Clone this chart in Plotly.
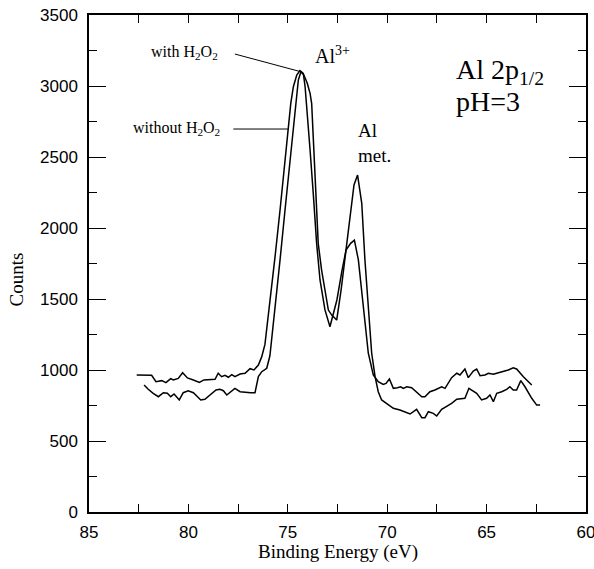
import plotly.graph_objects as go

# Curve "without H2O2"
ev_without = [82.60, 81.85, 81.63, 81.34, 81.13, 80.89, 80.76, 80.51, 80.29, 80.05,
              79.75, 79.45, 79.22, 78.91, 78.66, 78.50, 78.33, 78.16, 77.99, 77.82,
              77.66, 77.40, 77.15, 76.90, 76.70, 76.48, 76.31, 76.15, 75.90, 75.64,
              75.39, 75.14, 74.97, 74.85, 74.72, 74.55, 74.39, 74.22, 74.13, 74.05,
              73.88, 73.72, 73.55, 73.38, 73.13, 72.88, 72.53, 72.27, 72.07, 71.84,
              71.65, 71.45, 71.20, 70.95, 70.70, 70.45, 70.20, 70.06, 69.89, 69.69,
              69.49, 69.32, 69.19, 69.02, 68.77, 68.52, 68.26, 68.10, 67.85, 67.60,
              67.26, 67.09, 66.76, 66.50, 66.34, 66.09, 65.92, 65.67, 65.50, 65.33,
              65.08, 64.91, 64.66, 64.49, 64.16, 63.91, 63.66, 63.49, 63.15, 62.73]
cnt_without = [965, 963, 918, 925, 911, 939, 930, 941, 981, 944,
               930, 913, 930, 934, 934, 977, 953, 963, 949, 967,
               953, 972, 977, 1009, 1000, 1035, 1094, 1180, 1470, 1800,
               2127, 2479, 2690, 2878, 2995, 3077, 3108, 3089, 2995, 2831,
               2549, 2244, 1892, 1634, 1423, 1305, 1493, 1704, 1845, 1892,
               1915, 1775, 1423, 1118, 965, 918, 899, 906, 937, 871,
               875, 882, 871, 882, 875, 843, 812, 812, 847, 859,
               882, 871, 946, 977, 965, 1007, 946, 993, 1007, 960,
               965, 977, 970, 977, 988, 1000, 1016, 1007, 953, 894]

# Curve "with H2O2"
ev_with = [82.23, 82.02, 81.77, 81.51, 81.26, 81.06, 80.89, 80.72, 80.46, 80.26,
           80.01, 79.75, 79.58, 79.38, 79.17, 78.91, 78.61, 78.41, 78.24, 78.07,
           77.87, 77.66, 77.40, 77.10, 76.87, 76.65, 76.48, 76.31, 76.06, 75.90,
           75.64, 75.39, 75.14, 74.89, 74.72, 74.59, 74.47, 74.34, 74.19, 74.02,
           73.88, 73.80, 73.63, 73.47, 73.30, 72.96, 72.79, 72.54, 72.32, 72.07,
           71.87, 71.67, 71.49, 71.28, 71.12, 70.95, 70.78, 70.61, 70.45, 70.28,
           70.03, 69.69, 69.36, 68.85, 68.52, 68.26, 68.10, 67.93, 67.68, 67.51,
           67.26, 67.01, 66.76, 66.50, 66.09, 65.89, 65.67, 65.50, 65.25, 65.00,
           64.83, 64.66, 64.49, 64.24, 63.99, 63.83, 63.66, 63.49, 63.28, 63.07,
           62.73, 62.48, 62.31]
cnt_with = [894, 864, 836, 812, 840, 836, 812, 831, 789, 840,
            854, 840, 817, 789, 794, 824, 859, 864, 854, 824,
            847, 871, 847, 840, 840, 840, 953, 988, 1012, 1100,
            1422, 1775, 2127, 2479, 2713, 2901, 3042, 3101, 3077, 3019,
            2948, 2878, 2361, 1892, 1704, 1422, 1387, 1352, 1563, 1845,
            2092, 2303, 2373, 2174, 1775, 1423, 1118, 953, 847, 789,
            765, 730, 718, 690, 723, 664, 664, 706, 695, 676,
            723, 742, 765, 794, 801, 871, 854, 836, 789, 801,
            824, 777, 836, 847, 864, 882, 859, 859, 925, 882,
            801, 753, 753]

x_ticks = [85, 80, 75, 70, 65, 60]
x_minor = [82.5, 77.5, 72.5, 67.5, 62.5]
y_ticks = [0, 500, 1000, 1500, 2000, 2500, 3000, 3500]

SERIF = "Liberation Serif, Times New Roman, serif"
SANS = "Liberation Sans, Arial, sans-serif"

fig = go.Figure()
fig.add_trace(go.Scatter(x=ev_without, y=cnt_without, mode="lines",
                         line=dict(color="black", width=1.5), name="without H2O2",
                         showlegend=False))
fig.add_trace(go.Scatter(x=ev_with, y=cnt_with, mode="lines",
                         line=dict(color="black", width=1.5), name="with H2O2",
                         showlegend=False))

# pointer lines for labels
fig.add_shape(type="line", x0=77.66, y0=3225, x1=74.33, y1=3100,
              line=dict(color="black", width=1))
fig.add_shape(type="line", x0=77.74, y0=2697, x1=74.97, y1=2697,
              line=dict(color="black", width=1))

ann_font = dict(family=SERIF, size=16, color="black")
fig.add_annotation(x=78.41, y=3239, text="with H<sub>2</sub>O<sub>2</sub>",
                   showarrow=False, xanchor="right", yanchor="middle", font=ann_font)
fig.add_annotation(x=78.31, y=2700, text="without H<sub>2</sub>O<sub>2</sub>",
                   showarrow=False, xanchor="right", yanchor="middle", font=ann_font)
fig.add_annotation(x=73.75, y=3215, text="Al<sup>3+</sup>",
                   showarrow=False, xanchor="left", yanchor="middle",
                   font=dict(family=SERIF, size=20, color="black"))
fig.add_annotation(x=71.57, y=2598, text="Al<br>met.", align="left",
                   showarrow=False, xanchor="left", yanchor="middle",
                   font=dict(family=SERIF, size=19, color="black"))
fig.add_annotation(x=66.65, y=3100, text="Al 2p<sub>1/2</sub>", align="left",
                   showarrow=False, xanchor="left", yanchor="middle",
                   font=dict(family=SERIF, size=28, color="black"))
fig.add_annotation(x=66.65, y=2890, text="pH=3", align="left",
                   showarrow=False, xanchor="left", yanchor="middle",
                   font=dict(family=SERIF, size=28, color="black"))

# axis titles as annotations for exact placement
fig.add_annotation(xref="paper", yref="paper", x=-73 / 497, y=0.5 - 16 / 497,
                   text="Counts", textangle=-90, showarrow=False,
                   xanchor="center", yanchor="middle",
                   font=dict(family=SERIF, size=19, color="black"))
fig.add_annotation(xref="paper", yref="paper", x=0.5, y=-40 / 497,
                   text="Binding Energy (eV)", showarrow=False,
                   xanchor="center", yanchor="middle",
                   font=dict(family=SERIF, size=19, color="black"))

fig.update_xaxes(range=[85, 60], tickvals=x_ticks, ticktext=[str(v) for v in x_ticks],
                 ticks="inside", ticklen=8, tickwidth=1.2, tickcolor="black",
                 minor=dict(tickvals=x_minor, ticks="inside",
                            ticklen=8, tickwidth=1.2, tickcolor="black"),
                 showline=True, linecolor="black", linewidth=1.5, mirror="allticks",
                 showgrid=False, zeroline=False, ticklabelstandoff=4,
                 ticklabeloverflow="allow",
                 tickfont=dict(family=SANS, size=17, color="black"))
fig.update_yaxes(range=[0, 3500], tickvals=y_ticks,
                 ticks="inside", ticklen=17, tickwidth=1.2, tickcolor="black",
                 minor=dict(dtick=250, ticks="inside", ticklen=8, tickwidth=1.2,
                            tickcolor="black"),
                 showline=True, linecolor="black", linewidth=1.5, mirror="allticks",
                 showgrid=False, zeroline=False, ticklabelstandoff=6,
                 ticklabeloverflow="allow",
                 tickfont=dict(family=SANS, size=17, color="black"))

fig.update_layout(width=594, height=569, paper_bgcolor="white", plot_bgcolor="white",
                  margin=dict(l=89, r=8, t=15, b=57, autoexpand=False))

fig.write_html("out.html")
